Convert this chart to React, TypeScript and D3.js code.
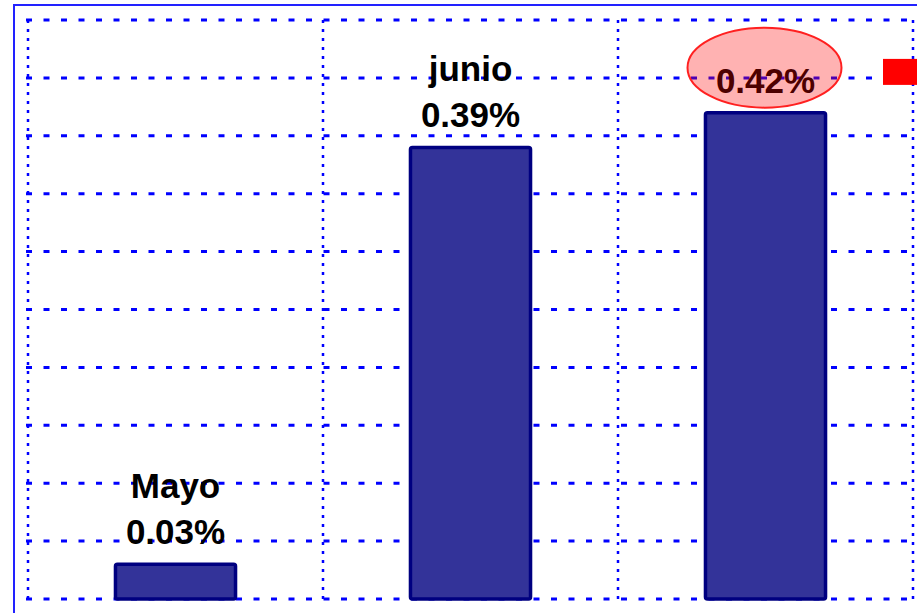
import { useEffect, useRef } from "react";
import * as d3 from "d3";

const months = ["Mayo", "junio", ""];
const values = [0.03, 0.39, 0.42];
const valueLabels = ["0.03%", "0.39%", "0.42%"];
const yTicks = [0, 0.05, 0.1, 0.15, 0.2, 0.25, 0.3, 0.35, 0.4, 0.45, 0.5];

function App() {
  const svgRef = useRef<SVGSVGElement | null>(null);

  useEffect(() => {
    const width = 917;
    const height = 613;
    const plot = { left: 28, right: 913, top: 20, bottom: 599 };

    const svg = d3.select(svgRef.current).attr("width", width).attr("height", height);
    svg.selectAll("*").remove();

    const x = d3
      .scaleBand()
      .domain(months.map((m, i) => String(i)))
      .range([plot.left, plot.right])
      .paddingInner(0.593)
      .paddingOuter(0.2965);

    const y = d3.scaleLinear().domain([0, 0.5]).range([plot.bottom, plot.top]);

    // outer frame
    svg
      .append("path")
      .attr("d", `M14,${height} L14,5 L${width},5`)
      .attr("fill", "none")
      .attr("stroke", "#2222ff")
      .attr("stroke-width", 2);

    // horizontal grid
    svg
      .selectAll(".hgrid")
      .data(yTicks)
      .enter()
      .append("line")
      .attr("x1", plot.left - 2)
      .attr("x2", width)
      .attr("y1", (d) => y(d))
      .attr("y2", (d) => y(d))
      .attr("stroke", "#0000ff")
      .attr("stroke-width", 3)
      .attr("stroke-dasharray", "6,11.5");

    // vertical grid at band boundaries
    const step = x.step();
    const vx = d3.range(months.length + 1).map((i) => plot.left + i * step);
    svg
      .selectAll(".vgrid")
      .data(vx)
      .enter()
      .append("line")
      .attr("x1", (d) => d)
      .attr("x2", (d) => d)
      .attr("y1", plot.top)
      .attr("y2", plot.bottom)
      .attr("stroke", "#0000ff")
      .attr("stroke-width", 2.5)
      .attr("stroke-dasharray", "3,6");

    // bars
    svg
      .selectAll(".bar")
      .data(values)
      .enter()
      .append("rect")
      .attr("x", (d, i) => x(String(i))!)
      .attr("y", (d) => y(d))
      .attr("width", x.bandwidth())
      .attr("height", (d) => y(0) - y(d))
      .attr("rx", 2)
      .attr("fill", "#333399")
      .attr("stroke", "#000080")
      .attr("stroke-width", 3.5);

    const font = "'Liberation Sans', Arial, sans-serif";

    // labels
    values.forEach((v, i) => {
      const cx = x(String(i))! + x.bandwidth() / 2;
      const base = y(v) - 20;
      svg
        .append("text")
        .attr("x", cx)
        .attr("y", base)
        .attr("text-anchor", "middle")
        .attr("font-family", font)
        .attr("font-weight", "bold")
        .attr("font-size", 35)
        .attr("fill", "#000")
        .text(valueLabels[i]);
      if (months[i]) {
        svg
          .append("text")
          .attr("x", cx)
          .attr("y", base - 46)
          .attr("text-anchor", "middle")
          .attr("font-family", font)
          .attr("font-weight", "bold")
          .attr("font-size", 35)
          .attr("fill", "#000")
          .text(months[i]);
      }
    });

    // highlight on the latest value
    const last = values.length - 1;
    svg
      .append("ellipse")
      .attr("cx", x(String(last))! + x.bandwidth() / 2 - 1)
      .attr("cy", y(values[last]) - 45)
      .attr("rx", 77)
      .attr("ry", 40)
      .attr("fill", "rgba(255,0,0,0.3)")
      .attr("stroke", "#ff2020")
      .attr("stroke-width", 2);

    // red marker on the right
    svg
      .append("rect")
      .attr("x", 883)
      .attr("y", y(0.45) - 19)
      .attr("width", 34)
      .attr("height", 26)
      .attr("fill", "#ff0000");
  }, []);

  return (
    <svg
      ref={svgRef}
      style={{ position: "absolute", left: 0, top: 0, background: "#fff" }}
    ></svg>
  );
}

export default App;
